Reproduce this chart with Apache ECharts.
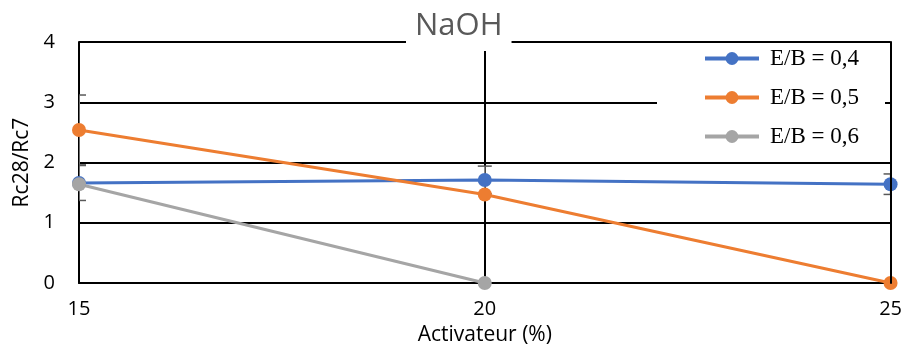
<!DOCTYPE html>
<html>
<head>
<meta charset="utf-8">
<script src="https://cdn.jsdelivr.net/npm/echarts@6/dist/echarts.min.js"></script>
<style>
  html, body { margin: 0; padding: 0; background: #fff; }
  #chart { width: 905px; height: 354px; }
</style>
</head>
<body>
<div id="chart"></div>
<script>
// values
const activateur = [15, 20, 25];
const eb04 = [1.66, 1.71, 1.64];
const eb05 = [2.54, 1.47, 0];
const eb06 = [1.64, 0, null];
const err04 = [0.29, 0.23, 0.17];
const err05 = [0.58, 0, 0];
const yTicks = [0, 1, 2, 3, 4];

const chart = echarts.init(document.getElementById('chart'));

const pairs = (ys) => activateur.map((x, i) => [x, ys[i]]);
const errData = (ys, es) => activateur.map((x, i) => [x, ys[i] - es[i], ys[i] + es[i]]).filter((d, i) => es[i] > 0);

// error bars: vertical line + caps, clipped to the grid like the original
function errorBars(name, ys, es) {
  return {
    name: name + ' err',
    type: 'custom',
    clip: true,
    z: 1,
    silent: true,
    data: errData(ys, es),
    renderItem: (params, api) => {
      const lo = api.coord([api.value(0), api.value(1)]);
      const hi = api.coord([api.value(0), api.value(2)]);
      const hw = 7;
      const style = { stroke: '#595959', lineWidth: 1.5 };
      return {
        type: 'group',
        children: [
          { type: 'line', shape: { x1: lo[0], y1: lo[1], x2: hi[0], y2: hi[1] }, style: { stroke: '#8c8c8c', lineWidth: 1.5 } },
          { type: 'line', shape: { x1: lo[0] - hw, y1: lo[1], x2: lo[0] + hw, y2: lo[1] }, style },
          { type: 'line', shape: { x1: hi[0] - hw, y1: hi[1], x2: hi[0] + hw, y2: hi[1] }, style }
        ]
      };
    }
  };
}

const lineSeries = (name, ys, color) => ({
  name,
  type: 'line',
  data: pairs(ys),
  z: 3,
  symbol: 'circle',
  symbolSize: 14,
  lineStyle: { width: 3, color },
  itemStyle: { color },
  connectNulls: false
});

const options = {
  animation: false,
  title: {
    text: 'NaOH',
    left: 406,
    top: 8,
    padding: [0, 9, 7, 9],
    backgroundColor: '#fff',
    z: 10,
    textStyle: {
      fontFamily: 'Open Sans',
      fontSize: 31,
      fontWeight: 'normal',
      color: '#595959',
      lineHeight: 36
    }
  },
  legend: {
    orient: 'vertical',
    left: 657,
    top: 44,
    padding: [3, 26, 10, 46],
    backgroundColor: '#fff',
    itemWidth: 54,
    itemHeight: 16,
    itemGap: 16,
    z: 10,
    lineStyle: { width: 4 },
    data: ['E/B = 0,4', 'E/B = 0,5', 'E/B = 0,6'],
    textStyle: { fontFamily: 'Liberation Serif', fontSize: 23, color: '#000', lineHeight: 16, padding: [0, 0, 0, 6] }
  },
  grid: { left: 79, right: 14, top: 42, bottom: 71 },
  xAxis: {
    type: 'value',
    min: 15,
    max: 25,
    interval: 5,
    name: 'Activateur (%)',
    nameLocation: 'middle',
    nameGap: 42,
    nameTextStyle: { fontFamily: 'Open Sans', fontSize: 21, color: '#000' },
    axisLine: { lineStyle: { color: '#000', width: 2 } },
    axisTick: { show: false },
    axisLabel: { fontFamily: 'Open Sans', fontSize: 20, color: '#000', margin: 16 },
    splitLine: { show: true, lineStyle: { color: '#000', width: 2 } }
  },
  yAxis: [
    {
      type: 'value',
      min: yTicks[0],
      max: yTicks[yTicks.length - 1],
      interval: 1,
      name: 'Rc28/Rc7',
      nameLocation: 'middle',
      nameGap: 46,
      nameTextStyle: { fontFamily: 'Open Sans', fontSize: 21, color: '#000' },
      axisLine: { show: true, lineStyle: { color: '#000', width: 2 } },
      axisTick: { show: false },
      axisLabel: { fontFamily: 'Open Sans', fontSize: 20, color: '#000', margin: 24 },
      splitLine: { show: true, lineStyle: { color: '#000', width: 2 } }
    },
    {
      // right border of the plot, drawn over the legend box
      type: 'value',
      position: 'right',
      min: yTicks[0],
      max: yTicks[yTicks.length - 1],
      interval: 1,
      z: 20,
      axisLine: { show: true, lineStyle: { color: '#000', width: 2 } },
      axisTick: { show: false },
      axisLabel: { show: false },
      splitLine: { show: false }
    }
  ],
  series: [
    errorBars('E/B = 0,4', eb04, err04),
    errorBars('E/B = 0,5', eb05, err05),
    lineSeries('E/B = 0,4', eb04, '#4472C4'),
    lineSeries('E/B = 0,5', eb05, '#ED7D31'),
    lineSeries('E/B = 0,6', eb06, '#A5A5A5')
  ]
};

chart.setOption(options);
</script>
</body>
</html>
